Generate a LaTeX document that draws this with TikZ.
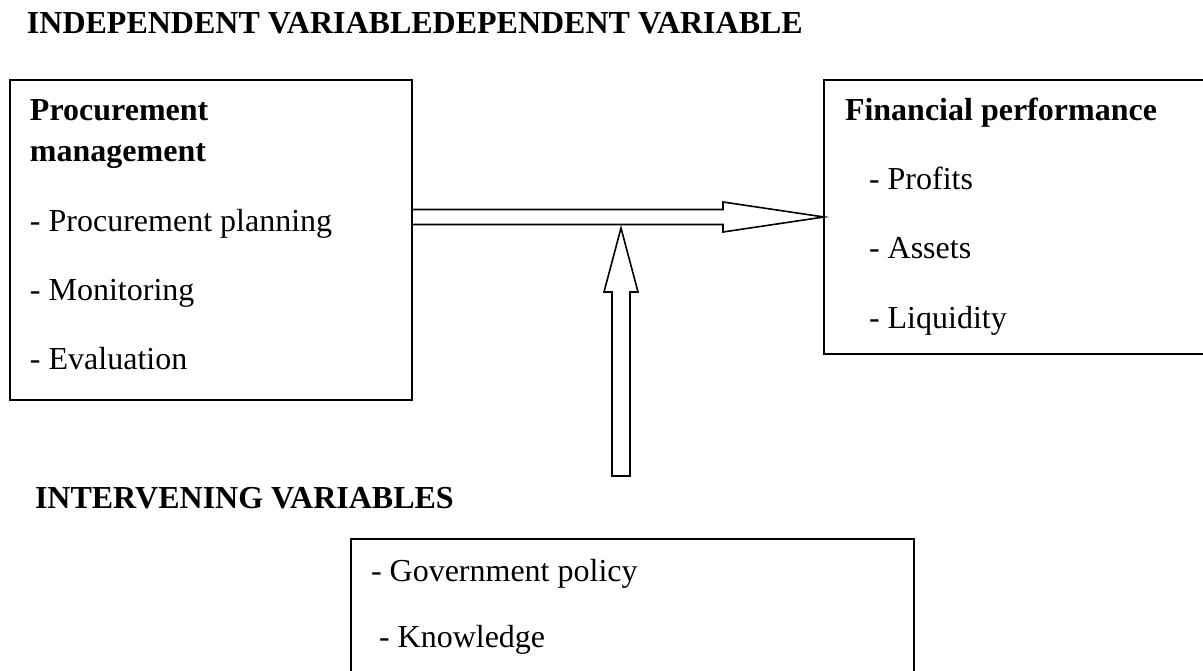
\documentclass[tikz,border=0pt]{standalone}
\usepackage{fontspec}
\setmainfont{Liberation Serif}
\usetikzlibrary{calc}
\begin{document}
\begin{tikzpicture}[x=1pt,y=-1pt,
  frame/.style={draw, line width=1.6pt, rectangle, inner sep=0pt, outer sep=0pt},
  txt/.style={anchor=base west, inner sep=0pt, outer sep=0pt, font=\fontsize{32}{38}\selectfont},
  hdr/.style={txt, font=\fontsize{32}{38}\selectfont\bfseries},
  fat/.style={draw, line width=1.6pt, line join=miter, fill=white}]
\useasboundingbox (0,0) rectangle (1203,671);

% boxes
\node[frame, minimum width=402pt, minimum height=320pt] (lbox) at (211,240) {};
\node[frame, minimum width=391pt, minimum height=274pt] (rbox) at (1019.5,217) {};
\node[frame, minimum width=563pt, minimum height=161pt] (bbox) at (632.5,619.5) {};

% headings
\node[hdr] (tophead) at (27,34) {INDEPENDENT VARIABLEDEPENDENT VARIABLE};
\node[hdr] (midhead) at (35,508) {INTERVENING VARIABLES};

% independent variable
\node[hdr] (l1) at (30,121) {Procurement};
\node[hdr] (l2) at (30,162) {management};
\node[txt] (l3) at (30,232) {- Procurement planning};
\node[txt] (l4) at (30,301) {- Monitoring};
\node[txt] (l5) at (30,369) {- Evaluation};

% dependent variable
\node[hdr] (r1) at (845,121) {Financial performance};
\node[txt] (r2) at (869,190) {- Profits};
\node[txt] (r3) at (869,259) {- Assets};
\node[txt] (r4) at (869,328) {- Liquidity};

% intervening variables
\node[txt] (b1) at (371,581) {- Government policy};
\node[txt] (b2) at (379,647) {- Knowledge};

% block arrow from independent to dependent variable
\coordinate (hs) at (lbox.east |- rbox.west);
\coordinate (ht) at (rbox.west);
\draw[fat] ($(hs)+(0,-7.5)$) -- ($(ht)+(-101,-7.5)$) -- ($(ht)+(-101,-15)$)
  -- (ht) -- ($(ht)+(-101,15)$) -- ($(ht)+(-101,7.5)$) -- ($(hs)+(0,7.5)$) -- cycle;

% block arrow of the intervening variables
\coordinate (vt) at (621,228);
\coordinate (vb) at (621,476);
\draw[fat] ($(vb)+(-9,0)$) -- ($(vt)+(-9,64)$) -- ($(vt)+(-17,64)$) -- (vt)
  -- ($(vt)+(17,64)$) -- ($(vt)+(9,64)$) -- ($(vb)+(9,0)$) -- cycle;
\end{tikzpicture}
\end{document}
